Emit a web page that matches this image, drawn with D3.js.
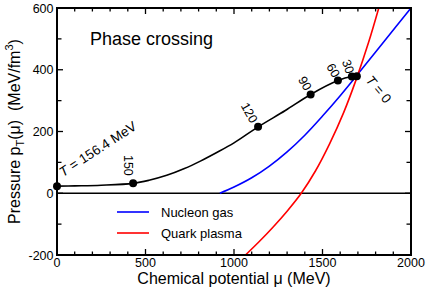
<!DOCTYPE html>
<html><head><meta charset="utf-8">
<script src="https://cdn.jsdelivr.net/npm/d3@7"></script>
<style>
html,body{margin:0;padding:0;background:#fff;}
text{font-family:"Liberation Sans",Arial,sans-serif;fill:#000;}
</style></head>
<body>
<svg id="c" width="429" height="291"></svg>
<script>
// ---- data ----
const blackMu = [0,100,250,430,520,620,720,810,900,1000,1136,1290,1433,1587,1666,1694];
const blackP  = [23,24,26,32,42,58,80,104,131,163,215,268,320,365,378,379];
const markerMu = [0,430,1136,1433,1587,1666,1694];
const markerP  = [23,32,215,320,365,378,379];
const markerT  = ["156.4","150","120","90","60","30","0"];
const blueMu = [920,1000,1100,1200,1300,1400,1500,1600,1700,1850,2000];
const blueP  = [0,20,50,88,134,188,250,316,386,493,600];
const redMu  = [1065,1140,1220,1300,1380,1460,1540,1620,1690,1760,1818];
const redP   = [-200,-158,-110,-58,0,72,160,262,368,488,600];
const xTicks = [0,500,1000,1500,2000];
const yTicks = [-200,0,200,400,600];
const legendLabels = ["Nucleon gas","Quark plasma"];
const legendColors = ["#0000ff","#ff0000"];

const svg = d3.select("#c");
const L=57,R=411,T=8,B=255;
const x = d3.scaleLinear().domain([0,2000]).range([L,R]);
const y = d3.scaleLinear().domain([-200,600]).range([B,T]);

svg.append("clipPath").attr("id","clip").append("rect")
  .attr("x",L).attr("y",T).attr("width",R-L).attr("height",B-T);

const g = svg.append("g").attr("clip-path","url(#clip)");
// zero line
g.append("line").attr("x1",L).attr("x2",R).attr("y1",y(0)).attr("y2",y(0))
  .attr("stroke","#000").attr("stroke-width",1.5);

const line = d3.line().x(d=>x(d[0])).y(d=>y(d[1])).curve(d3.curveCatmullRom.alpha(0.5));
function draw(mu,p,color){
  g.append("path").datum(mu.map((m,i)=>[m,p[i]])).attr("d",line)
   .attr("fill","none").attr("stroke",color).attr("stroke-width",1.6);
}
draw(blueMu,blueP,"#0000ff");
draw(redMu,redP,"#ff0000");
draw(blackMu,blackP,"#000");

// markers
svg.append("g").selectAll("circle").data(markerMu).join("circle")
  .attr("cx",d=>x(d)).attr("cy",(d,i)=>y(markerP[i])).attr("r",4).attr("fill","#000");

// axes frame
svg.append("rect").attr("x",L).attr("y",T).attr("width",R-L).attr("height",B-T)
  .attr("fill","none").attr("stroke","#000").attr("stroke-width",2);

const tk = svg.append("g").attr("stroke","#000").attr("stroke-width",1.3);
d3.range(0,2001,100).forEach(v=>{
  const len = v%500===0?6:3.5;
  tk.append("line").attr("x1",x(v)).attr("x2",x(v)).attr("y1",B).attr("y2",B-len);
  tk.append("line").attr("x1",x(v)).attr("x2",x(v)).attr("y1",T).attr("y2",T+len);
});
d3.range(-200,601,100).forEach(v=>{
  const len = v%200===0?6:4.5;
  tk.append("line").attr("y1",y(v)).attr("y2",y(v)).attr("x1",L).attr("x2",L+len);
  tk.append("line").attr("y1",y(v)).attr("y2",y(v)).attr("x1",R).attr("x2",R-len);
});

// tick labels
svg.append("g").selectAll("text").data(xTicks).join("text")
  .attr("x",d=>x(d)).attr("y",267).attr("text-anchor","middle")
  .attr("font-size",12.5).text(d=>d);
svg.append("g").selectAll("text").data(yTicks).join("text")
  .attr("x",L-3.5).attr("y",d=>y(d)+4.5).attr("text-anchor","end")
  .attr("font-size",12.5).text(d=>d);

// axis titles
svg.append("text").attr("x",(L+R)/2).attr("y",284).attr("text-anchor","middle")
  .attr("font-size",16).text("Chemical potential \u03bc (MeV)");
const yl = svg.append("text").attr("transform",`translate(20,${(T+B)/2}) rotate(-90)`)
  .attr("text-anchor","middle").attr("font-size",16);
yl.append("tspan").text("Pressure p");
yl.append("tspan").attr("font-size",11).attr("dy",4).text("T");
yl.append("tspan").attr("dy",-4).text("(\u03bc)\u00a0\u00a0(MeV/fm");
yl.append("tspan").attr("font-size",11).attr("dy",-7).text("3");
yl.append("tspan").attr("dy",7).text(")");

// title
svg.append("text").attr("x",90).attr("y",45).attr("font-size",18).text("Phase crossing");

// point labels
const lab = [
  {i:0, dx:6, dy:-9, rot:-33, anchor:"start", pre:true},
  {i:1, dx:-5, dy:-18, rot:90},
  {i:2, dx:-9, dy:-14, rot:60},
  {i:3, dx:-6, dy:-11, rot:60},
  {i:4, dx:-5, dy:-10, rot:60},
  {i:5, dx:-4, dy:-10, rot:70},
  {i:6, dx:22, dy:13, rot:50, pre:true}
];
lab.forEach(o=>{
  const px = x(markerMu[o.i])+o.dx, py = y(markerP[o.i])+o.dy;
  const t = svg.append("text").attr("transform",`translate(${px},${py}) rotate(${o.rot})`)
    .attr("text-anchor",o.anchor||"middle").attr("font-size",o.pre?13.5:12.5)
    .attr("dominant-baseline",o.anchor?"auto":"central");
  if(o.pre){
    t.append("tspan").attr("font-style","italic").text("T");
    t.append("tspan").text(" = "+markerT[o.i]+(o.i===0?" MeV":""));
  } else t.text(markerT[o.i]);
});

// legend
const lg = svg.append("g");
legendLabels.forEach((s,i)=>{
  const yy = 212 + i*21;
  lg.append("line").attr("x1",117).attr("x2",149).attr("y1",yy).attr("y2",yy)
    .attr("stroke",legendColors[i]).attr("stroke-width",1.6);
  lg.append("text").attr("x",161).attr("y",yy+4.5).attr("font-size",13).text(s);
});
</script>
</body></html>
